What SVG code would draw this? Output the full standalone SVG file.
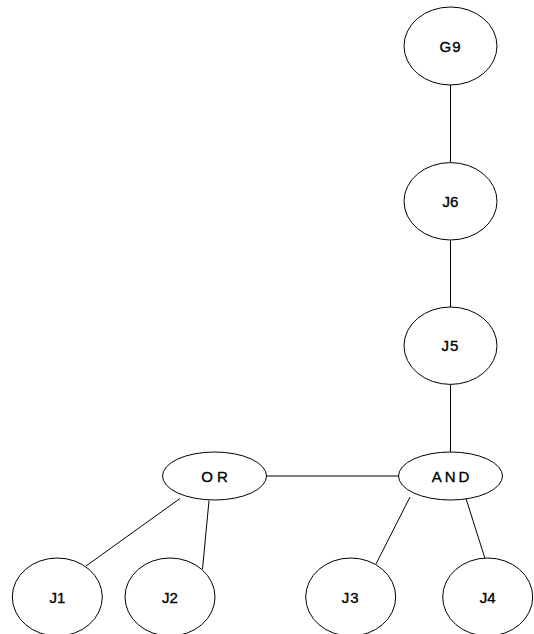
<svg xmlns="http://www.w3.org/2000/svg" width="534" height="634" viewBox="0 0 534 634">
<style>
.n ellipse{fill:#fff;stroke:#000;stroke-width:1}
.n text{font-family:"Liberation Sans",Arial,sans-serif;font-size:15px;fill:#000;stroke:#000;stroke-width:0.35;text-anchor:middle}
.c line{stroke:#000;stroke-width:1}
</style>
<rect width="534" height="634" fill="#fff"/>
<g class="c" id="connectors">
<line x1="450.5" y1="85" x2="450.5" y2="162.5"/>
<line x1="450.5" y1="240" x2="450.5" y2="307"/>
<line x1="450.5" y1="384.5" x2="450.5" y2="452"/>
<line x1="266.5" y1="476" x2="398.5" y2="476"/>
<line x1="180" y1="498.5" x2="86" y2="566"/>
<line x1="209" y1="500.5" x2="202.5" y2="569"/>
<line x1="410" y1="497" x2="376" y2="564"/>
<line x1="466" y1="498.5" x2="485" y2="558.5"/>
</g>
<g class="n" id="G9"><ellipse cx="450.5" cy="46" rx="46.5" ry="39"/><text x="450.5" y="51.5" style="letter-spacing:1px">G9</text></g>
<g class="n" id="J6"><ellipse cx="450.5" cy="201.3" rx="46.5" ry="38.7"/><text x="450.5" y="206.5">J6</text></g>
<g class="n" id="J5"><ellipse cx="450.5" cy="345.7" rx="46.5" ry="38.7"/><text x="450.5" y="351" style="letter-spacing:1px">J5</text></g>
<g class="n" id="OR"><ellipse cx="214.5" cy="476" rx="52" ry="24"/><text x="216.5" y="481.5" style="letter-spacing:4px">OR</text></g>
<g class="n" id="AND"><ellipse cx="450.5" cy="476" rx="52" ry="24"/><text x="452" y="481.5" style="letter-spacing:3px">AND</text></g>
<g class="n" id="J1"><ellipse cx="57.3" cy="597" rx="45" ry="39"/><text x="57.3" y="602.5">J1</text></g>
<g class="n" id="J2"><ellipse cx="170" cy="597" rx="45" ry="39"/><text x="170" y="602.5">J2</text></g>
<g class="n" id="J3"><ellipse cx="350.7" cy="597" rx="45" ry="39"/><text x="350.7" y="602.5" style="letter-spacing:1px">J3</text></g>
<g class="n" id="J4"><ellipse cx="487.7" cy="597" rx="45" ry="39"/><text x="487.7" y="602.5">J4</text></g>
</svg>
